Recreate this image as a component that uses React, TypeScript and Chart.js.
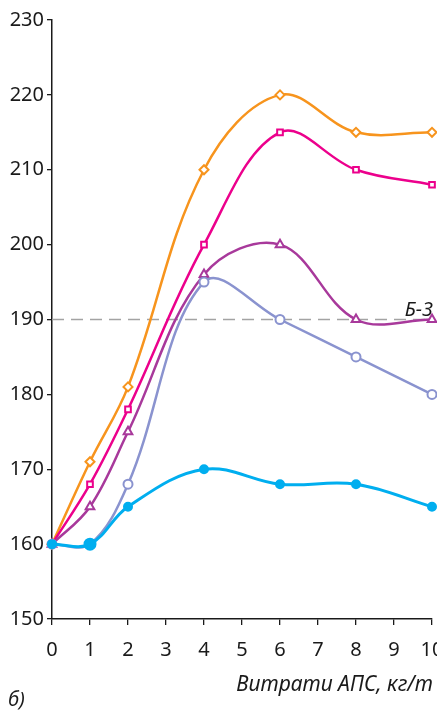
import React, { useEffect, useRef } from "react";
import { Chart, registerables } from "chart.js";

Chart.register(...registerables);

const xValues = [0, 1, 2, 4, 6, 8, 10];
const cyanSeries = [160, 160, 165, 170, 168, 168, 165];
const lavenderSeries = [160, 160, 168, 195, 190, 185, 180];
const purpleSeries = [160, 165, 175, 196, 200, 190, 190];
const magentaSeries = [160, 168, 178, 200, 215, 210, 208];
const orangeSeries = [160, 171, 181, 210, 220, 215, 215];
const refLevel = 190;
const refLabel = "Б-3";
const xTitle = "Витрати АПС, кг/т";
const panelLabel = "б)";

const W = 450;
const H = 711;

const toPts = (ys: number[]) => xValues.map((x, i) => ({ x, y: ys[i] }));

export default function App() {
  const ref = useRef<HTMLCanvasElement | null>(null);
  useEffect(() => {
    document.body.style.margin = "0";
    const canvas = ref.current!;
    const textPlugin = {
      id: "texts",
      beforeDatasetsDraw(chart: any) {
        const { ctx, chartArea, scales } = chart;
        const y = scales.y.getPixelForValue(refLevel);
        ctx.save();
        ctx.strokeStyle = "#a3a3a3";
        ctx.lineWidth = 1.4;
        ctx.setLineDash([12, 7]);
        ctx.beginPath();
        ctx.moveTo(chartArea.left, y);
        ctx.lineTo(chartArea.right, y);
        ctx.stroke();
        ctx.restore();
      },
      afterDraw(chart: any) {
        const { ctx, chartArea, scales } = chart;
        const y = scales.y.getPixelForValue(refLevel);
        ctx.save();
        ctx.fillStyle = "#1a1a1a";
        ctx.font = "italic 20px 'Noto Sans'";
        ctx.textAlign = "right";
        ctx.textBaseline = "alphabetic";
        ctx.fillText(refLabel, chartArea.right + 1, y - 4);
        ctx.font = "italic 21px 'Noto Sans'";
        ctx.fillText(xTitle, chartArea.right + 1, 691);
        ctx.textAlign = "left";
        ctx.font = "italic 20px 'Noto Sans'";
        ctx.fillText(panelLabel, 8, 706);
        ctx.restore();
      },
    };
    const ds = (label: string, data: number[], color: string, style: string, radius: any, fill: string, width: number) => ({
      label,
      data: toPts(data),
      borderColor: color,
      backgroundColor: fill,
      pointBorderColor: color,
      pointBackgroundColor: fill,
      pointStyle: style,
      pointRadius: radius,
      pointBorderWidth: 2,
      borderWidth: width,
      tension: 0.37,
      clip: false as any,
    });
    const chart = new Chart(canvas, {
      type: "line",
      data: {
        datasets: [
          ds("cyan", cyanSeries, "#00aeef", "circle", [4, 5.5, 4, 4, 4, 4, 4], "#00aeef", 3),
          ds("lavender", lavenderSeries, "#8a93cf", "circle", 4.5, "#ffffff", 2.5),
          ds("purple", purpleSeries, "#a8399b", "triangle", 5, "#ffffff", 2.5),
          ds("magenta", magentaSeries, "#ec008c", "rect", 4, "#ffffff", 2.5),
          ds("orange", orangeSeries, "#f7941d", "rectRot", 4.5, "#ffffff", 2.5),
        ],
      },
      options: {
        animation: false,
        responsive: false,
        devicePixelRatio: 1,
        layout: { padding: { left: 0, right: 18, top: 20, bottom: 0 } },
        plugins: { legend: { display: false }, tooltip: { enabled: false } },
        scales: {
          x: {
            type: "linear",
            min: 0,
            max: 10,
            ticks: { stepSize: 1, color: "#1a1a1a", font: { family: "'Noto Sans'", size: 20 }, padding: 13, maxRotation: 0 },
            grid: { drawOnChartArea: false, tickLength: 6, color: "#1a1a1a", lineWidth: 1.3 },
            border: { color: "#1a1a1a", width: 1.5 },
            afterFit(scale: any) {
              scale.height = H - 619;
              scale.paddingLeft = 0;
              scale.paddingRight = 0;
            },
          },
          y: {
            min: 150,
            max: 230,
            ticks: { stepSize: 10, color: "#1a1a1a", font: { family: "'Noto Sans'", size: 20 }, padding: 3 },
            grid: { drawOnChartArea: false, tickLength: 5, color: "#1a1a1a", lineWidth: 1.3 },
            border: { color: "#1a1a1a", width: 1.5 },
            afterFit(scale: any) {
              scale.width = 52;
              scale.paddingTop = 0;
              scale.paddingBottom = 0;
            },
          },
        },
      },
      plugins: [textPlugin],
    });
    return () => chart.destroy();
  }, []);
  return (
    <div style={{ position: "absolute", left: 0, top: 0, width: W, height: H, background: "#fff" }}>
      <canvas ref={ref} width={W} height={H} style={{ display: "block", width: W, height: H }} />
    </div>
  );
}
